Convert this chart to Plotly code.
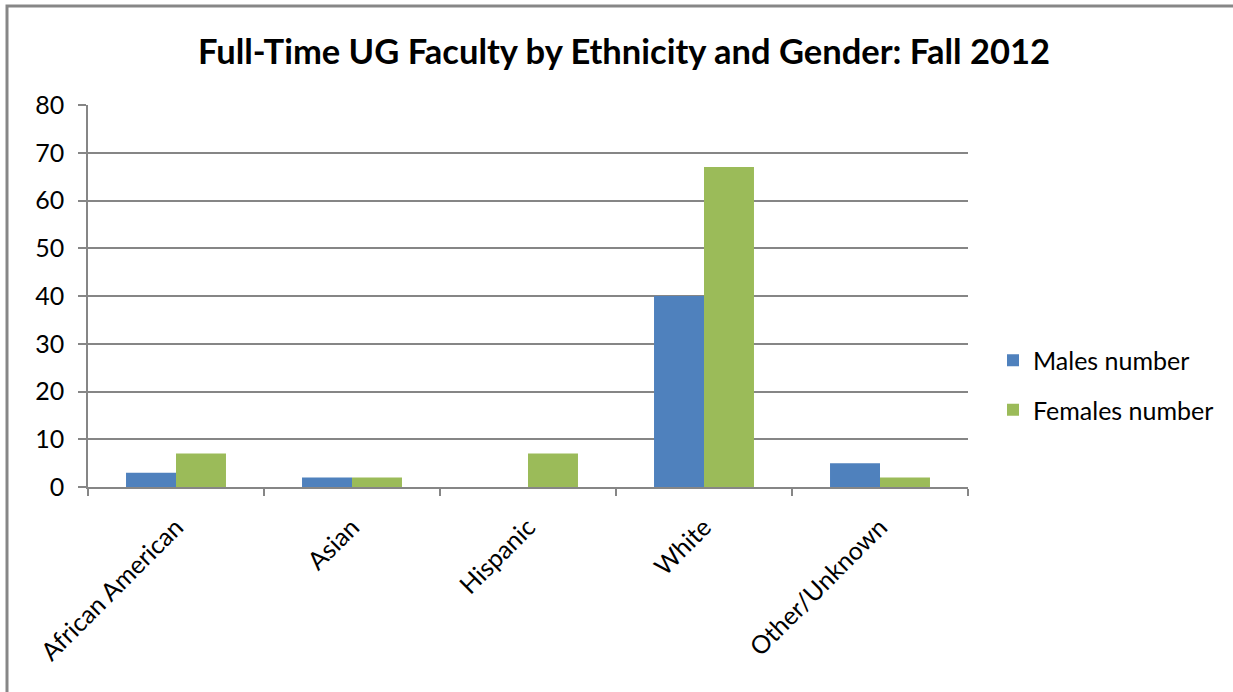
import plotly.graph_objects as go

categories = ["African American", "Asian", "Hispanic", "White", "Other/Unknown"]
males = [3, 2, 0, 40, 5]
females = [7, 2, 7, 67, 2]
y_ticks = [0, 10, 20, 30, 40, 50, 60, 70, 80]

W, H = 1233, 692
L, R, T, B = 88, 265, 105, 205
pw, ph = W - L - R, H - T - B

FONT = "Lato, Carlito, Calibri, sans-serif"
GRID = "#868686"
BODY = 25


def px_x(x):
    return (x - L) / pw


def px_y(y):
    return (H - B - y) / ph


fig = go.Figure()
fig.add_trace(go.Bar(
    x=categories, y=males, name="Males number", legendgroup="m",
    marker=dict(color="#4F81BD", line=dict(width=0)),
))
fig.add_trace(go.Bar(
    x=categories, y=females, name="Females number", legendgroup="f",
    marker=dict(color="#9BBB59", line=dict(width=0)),
))

# outer chart frame
fig.add_shape(
    type="rect", xref="paper", yref="paper",
    x0=px_x(7), x1=px_x(W + 200), y0=px_y(H + 200), y1=px_y(6),
    line=dict(color="#878787", width=3), fillcolor="rgba(0,0,0,0)",
    layer="below",
)

fig.update_layout(
    width=W, height=H,
    margin=dict(l=L, r=R, t=T, b=B, autoexpand=False),
    paper_bgcolor="white", plot_bgcolor="white",
    font=dict(family=FONT, color="black", size=BODY),
    title=dict(
        text="<b>Full-Time UG Faculty by Ethnicity and Gender: Fall 2012</b>",
        x=624 / W, xanchor="center", y=1 - 52 / H, yanchor="middle",
        font=dict(family=FONT, size=34.5, color="black"),
    ),
    barmode="group", bargap=0.432, bargroupgap=0,
    showlegend=True,
    legend=dict(
        x=px_x(993), xanchor="left", y=px_y(385), yanchor="middle",
        font=dict(family=FONT, size=BODY), tracegroupgap=14,
        traceorder="grouped", itemwidth=30,
        bgcolor="rgba(0,0,0,0)",
    ),
    xaxis=dict(
        type="category", tickangle=-45, ticks="outside", ticklen=7,
        tickcolor=GRID, tickwidth=1.5, tickson="boundaries",
        ticklabelstandoff=14,
        showline=True, linecolor=GRID, linewidth=1.5,
        showgrid=False, tickfont=dict(family=FONT, size=BODY),
    ),
    yaxis=dict(
        range=[0, 80], tickvals=y_ticks, ticks="outside", ticklen=8,
        tickcolor=GRID, tickwidth=1.5, ticklabelstandoff=9,
        showline=True, linecolor=GRID, linewidth=1.5,
        showgrid=True, gridcolor=GRID, gridwidth=1.5,
        zeroline=False, tickfont=dict(family=FONT, size=BODY),
    ),
)

fig.write_html("out.html")
